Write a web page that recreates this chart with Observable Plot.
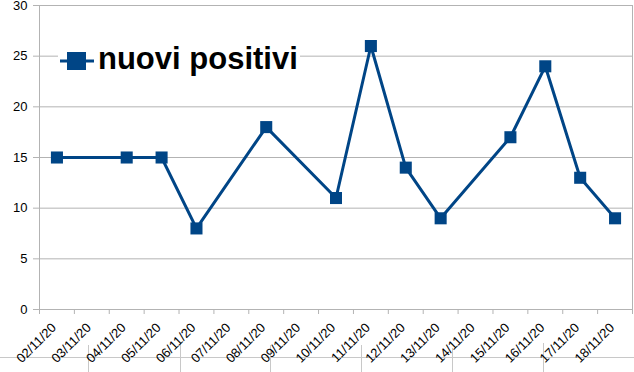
<!DOCTYPE html>
<html>
<head>
<meta charset="utf-8">
<script src="https://cdn.jsdelivr.net/npm/d3@7"></script>
<script src="https://cdn.jsdelivr.net/npm/@observablehq/plot@0.6"></script>
<style>
html, body { margin: 0; padding: 0; background: #fff; }
#wrap { position: relative; width: 634px; height: 372px; overflow: hidden; font-family: "Liberation Sans", Arial, sans-serif; }
#decor, #chart svg { position: absolute; left: 0; top: 0; }
#legend { position: absolute; left: 58px; top: 44px; width: 242px; height: 30px; background: #fff; }
#legend svg { position: absolute; left: 2px; top: 7px; }
#legend span { position: absolute; left: 40px; top: 0; font: bold 31px/30px "Liberation Sans", Arial, sans-serif; color: #000; white-space: nowrap; }
</style>
</head>
<body>
<div id="wrap">
  <svg id="decor" width="634" height="372">
    <line x1="0" x2="634" y1="357.5" y2="357.5" stroke="#c8c8c8"/>
    <g stroke="#c8c8c8">
      <line x1="88.5" x2="88.5" y1="345" y2="372"/>
      <line x1="180.5" x2="180.5" y1="343" y2="372"/>
      <line x1="270.5" x2="270.5" y1="345" y2="372"/>
      <line x1="361.5" x2="361.5" y1="345" y2="372"/>
      <line x1="452.5" x2="452.5" y1="348" y2="372"/>
      <line x1="543.5" x2="543.5" y1="343" y2="372"/>
    </g>
  </svg>
  <div id="chart"></div>
  <div id="legend">
    <svg width="36" height="20"><line x1="0" x2="34" y1="10" y2="10" stroke="#004586" stroke-width="3"/><rect x="7" y="1" width="19" height="18" fill="#004586"/></svg>
    <span id="legendText"></span>
  </div>
</div>
<script>
// ---- data ----
const dates = ["02/11/20","03/11/20","04/11/20","05/11/20","06/11/20","07/11/20","08/11/20","09/11/20","10/11/20","11/11/20","12/11/20","13/11/20","14/11/20","15/11/20","16/11/20","17/11/20","18/11/20"];
const nuoviPositivi = [15, null, 15, 15, 8, null, 18, null, 11, 26, 14, 9, null, 17, 24, 13, 9];
const yTicks = [0, 5, 10, 15, 20, 25, 30];
const seriesName = "nuovi positivi";
const lineColor = "#004586";
const gridColor = "#b3b3b3";

document.getElementById("legendText").textContent = seriesName;

const rows = dates.map((date, i) => ({i, date, v: nuoviPositivi[i]})).filter(d => d.v != null);
const boundaries = d3.range(dates.length + 1);
const xc = d => d.i + 0.5;

const chart = Plot.plot({
  width: 634,
  height: 372,
  marginLeft: 39,
  marginRight: 2,
  marginTop: 5,
  marginBottom: 63,
  style: {fontFamily: "'Liberation Sans', Arial, sans-serif", background: "transparent"},
  x: {type: "linear", domain: [0, dates.length]},
  y: {domain: [0, 30]},
  marks: [
    Plot.gridY(yTicks, {stroke: gridColor, strokeOpacity: 1}),
    Plot.frame({stroke: gridColor}),
    Plot.axisY(yTicks, {tickSize: 6, tickPadding: 6, fontSize: 13, stroke: gridColor, fill: "#000", label: null}),
    Plot.axisX(boundaries, {tickSize: 5, tickFormat: () => "", stroke: gridColor, label: null}),
    Plot.text(dates, {x: (d, i) => i + 0.5, frameAnchor: "bottom", rotate: -45, textAnchor: "end", dx: 0, dy: 19, fontSize: 13, fill: "#000"}),
    Plot.line(rows, {x: xc, y: "v", stroke: lineColor, strokeWidth: 3}),
    Plot.dot(rows, {x: xc, y: "v", symbol: "square", r: 6.8, fill: lineColor, stroke: "none"})
  ]
});
document.getElementById("chart").appendChild(chart);
</script>
</body>
</html>
